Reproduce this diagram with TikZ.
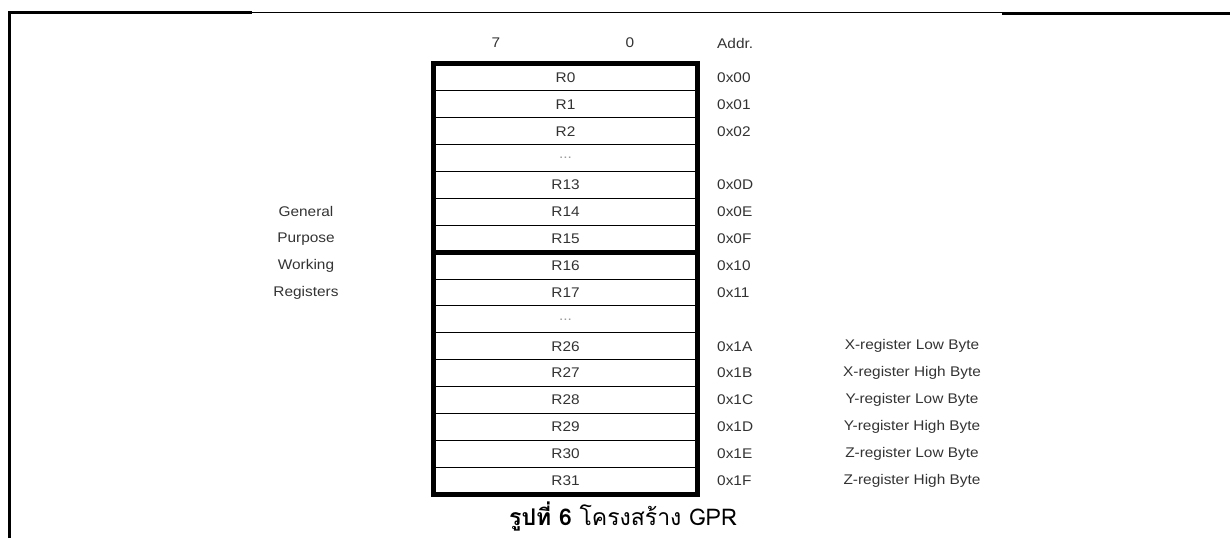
\documentclass[tikz,border=0pt]{standalone}
\usepackage{fontspec}
\setmainfont{Liberation Sans}
\newfontfamily\lbl[FakeStretch=1.1]{Liberation Sans}
\newfontfamily\thaifont[Script=Thai]{Loma}
\definecolor{txt}{HTML}{333333}
\definecolor{dots}{HTML}{9A9A9A}
\begin{document}
\begin{tikzpicture}[x=1pt,y=-1pt,
  reg/.style={draw=black,line width=0.9pt,minimum width=263pt,minimum height=26.875pt,inner sep=0pt,text=txt,font=\lbl\fontsize{14}{16}\selectfont},
  lab/.style={inner sep=0pt,text=txt,font=\lbl\fontsize{14}{16}\selectfont},
  thick box/.style={line width=4.8pt,line cap=rect}]
\useasboundingbox (0,0) rectangle (1230,538);
% page frame
\draw[line width=3pt] (9.5,538) -- (9.5,12.8) -- (252,12.8);
\draw[line width=1.1pt] (252,12.5) -- (1002,12.5);
\draw[line width=3pt] (1002,13) -- (1230,13);
% header
\node[lab] (h7) at (496,43) {7};
\node[lab] (h0) at (630,43) {0};
\node[lab,anchor=west] (haddr) at (717,43) {Addr.};
% registers
\foreach \lab [count=\i from 0] in {R0,R1,R2,{\textcolor{dots}{...}},R13,R14,R15,R16,R17,{\textcolor{dots}{...}},R26,R27,R28,R29,R30,R31}{
  \node[reg] (r\i) at (565.5,{64+(\i+0.5)*26.875}) {\lab};
}
% outer thick box and separator
\draw[thick box] (r0.north west) rectangle (r15.south east);
\draw[line width=4.5pt] (r6.south west) -- (r6.south east);
% addresses
\foreach \a/\i in {0x00/0,0x01/1,0x02/2,0x0D/4,0x0E/5,0x0F/6,0x10/7,0x11/8,0x1A/10,0x1B/11,0x1C/12,0x1D/13,0x1E/14,0x1F/15}{
  \node[lab,anchor=west] (a\i) at (717,{64+(\i+0.5)*26.875}) {\a};
}
% left labels
\node[lab] (g1) at (306,{64+5.5*26.875}) {General};
\node[lab] (g2) at (306,{64+6.5*26.875}) {Purpose};
\node[lab] (g3) at (306,{64+7.5*26.875}) {Working};
\node[lab] (g4) at (306,{64+8.5*26.875}) {Registers};
% right labels
\foreach \t/\i in {X-register Low Byte/10,X-register High Byte/11,Y-register Low Byte/12,Y-register High Byte/13,Z-register Low Byte/14,Z-register High Byte/15}{
  \node[lab] (d\i) at (912,{64+(\i+0.5)*26.875}) {\t};
}
% caption
\node[inner sep=0pt,anchor=base,font=\thaifont\fontsize{23}{25}\selectfont] (cap) at (623,525) {\textbf{รูปที่ 6} โครงสร้าง GPR};
\end{tikzpicture}
\end{document}
